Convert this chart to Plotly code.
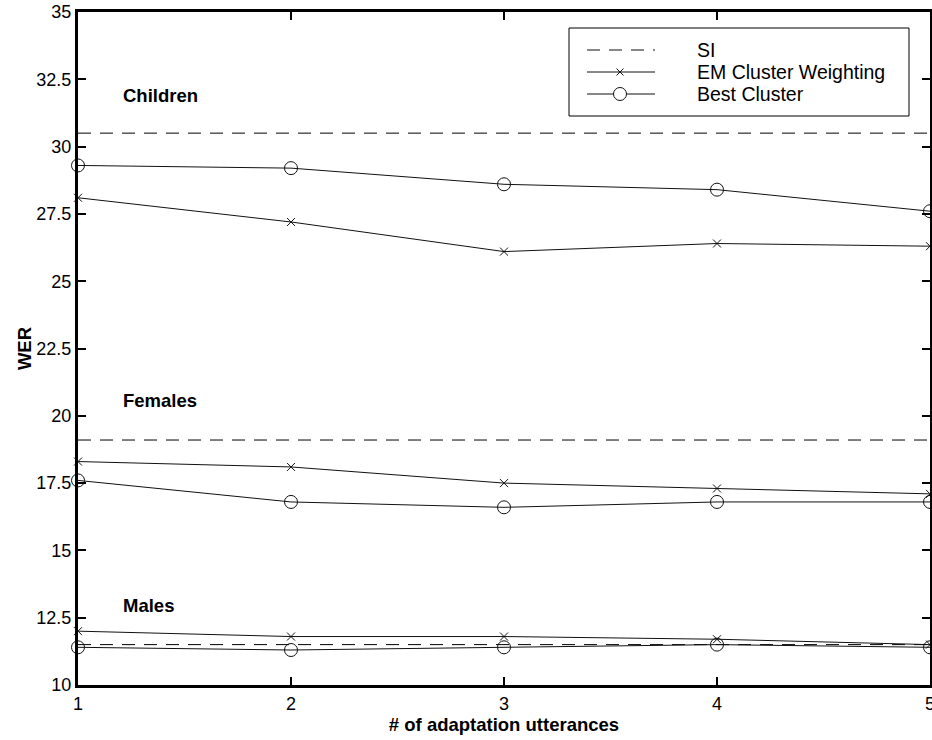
import plotly.graph_objects as go

# ---- data ----
utterances = [1, 2, 3, 4, 5]
groups = ["Children", "Females", "Males"]
si_wer = {"Children": 30.5, "Females": 19.1, "Males": 11.5}
em_wer = {
    "Children": [28.1, 27.2, 26.1, 26.4, 26.3],
    "Females": [18.3, 18.1, 17.5, 17.3, 17.1],
    "Males": [12.0, 11.8, 11.8, 11.7, 11.5],
}
best_wer = {
    "Children": [29.3, 29.2, 28.6, 28.4, 27.6],
    "Females": [17.6, 16.8, 16.6, 16.8, 16.8],
    "Males": [11.4, 11.3, 11.4, 11.5, 11.4],
}
label_y = {"Children": 31.9, "Females": 20.55, "Males": 12.95}
x_ticks = [1, 2, 3, 4, 5]
y_ticks = [10, 12.5, 15, 17.5, 20, 22.5, 25, 27.5, 30, 32.5, 35]
y_ticklabels = ["10", "12.5", "15", "17.5", "20", "22.5", "25", "27.5", "30", "32.5", "35"]
legend_names = ["SI", "EM Cluster Weighting", "Best Cluster"]

W, H = 932, 740
ML, MR, MT, MB = 78, 2, 12, 55
PW, PH = W - ML - MR, H - MT - MB
FONT = "Liberation Sans, Arial, Helvetica, sans-serif"
LC = "#111111"
DASH = "13px,9px"
TICK_FS = 18
BOLD_FS = 18.5
LEG_FS = 19.5


def px(xp):
    return (xp - ML) / PW


def py(yp):
    return (H - MB - yp) / PH


fig = go.Figure()

for g in groups:
    fig.add_trace(go.Scatter(
        x=[utterances[0], utterances[-1]], y=[si_wer[g], si_wer[g]],
        mode="lines", line=dict(color="black", width=1, dash=DASH),
        showlegend=False, hoverinfo="skip"))
    fig.add_trace(go.Scatter(
        x=utterances, y=em_wer[g], mode="lines+markers",
        line=dict(color=LC, width=1),
        marker=dict(symbol="x-thin", size=8, line=dict(color=LC, width=1)),
        showlegend=False, cliponaxis=False))
    fig.add_trace(go.Scatter(
        x=utterances, y=best_wer[g], mode="lines+markers",
        line=dict(color=LC, width=1),
        marker=dict(symbol="circle-open", size=13, color=LC, line=dict(color=LC, width=1)),
        showlegend=False, cliponaxis=False))
    fig.add_annotation(x=1.2, y=label_y[g], text="<b>%s</b>" % g, showarrow=False,
                       xanchor="left", yanchor="middle",
                       font=dict(family=FONT, size=BOLD_FS, color="black"))

# ---- manual legend (matching the reference's long line samples) ----
shapes = []
bx0, bx1, by0, by1 = 569, 909, 28, 116
shapes.append(dict(type="rect", xref="paper", yref="paper",
                   x0=px(bx0), x1=px(bx1), y0=py(by1), y1=py(by0),
                   line=dict(color="black", width=1), fillcolor="white", layer="above"))
rows = [50, 72, 94]
lx0, lx1, lxc = 587, 655, 620
for i, (name, ry) in enumerate(zip(legend_names, rows)):
    shapes.append(dict(type="line", xref="paper", yref="paper",
                       x0=px(lx0), x1=px(lx1), y0=py(ry), y1=py(ry),
                       line=dict(color=LC, width=1, dash=DASH if i == 0 else "solid"),
                       layer="above"))
    fig.add_annotation(xref="paper", yref="paper", x=px(695), y=py(ry), text=name,
                       showarrow=False, xanchor="left", yanchor="middle",
                       font=dict(family=FONT, size=LEG_FS, color="black"))
# cross marker sample
for sx in (1, -1):
    shapes.append(dict(type="line", xref="paper", yref="paper",
                       xsizemode="pixel", ysizemode="pixel",
                       xanchor=px(lxc), yanchor=py(rows[1]),
                       x0=-3.5, x1=3.5, y0=-3.5 * sx, y1=3.5 * sx,
                       line=dict(color=LC, width=1), layer="above"))
# circle marker sample
shapes.append(dict(type="circle", xref="paper", yref="paper",
                   xsizemode="pixel", ysizemode="pixel",
                   xanchor=px(lxc), yanchor=py(rows[2]),
                   x0=-6.5, x1=6.5, y0=-6.5, y1=6.5,
                   line=dict(color=LC, width=1), fillcolor="white", layer="above"))

fig.update_layout(
    width=W, height=H,
    margin=dict(l=ML, r=MR, t=MT, b=MB, autoexpand=False),
    paper_bgcolor="white", plot_bgcolor="white",
    font=dict(family=FONT, size=TICK_FS, color="black"),
    showlegend=False,
    shapes=shapes,
)
fig.update_xaxes(
    range=[1, 5], tickvals=x_ticks, ticktext=[str(v) for v in x_ticks],
    showgrid=False, zeroline=False, automargin=False,
    ticklabeloverflow="allow",
    showline=True, linecolor="black", linewidth=3, mirror="ticks",
    ticks="inside", ticklen=8, tickwidth=2, tickcolor="black",
    tickfont=dict(family=FONT, size=TICK_FS, color="black"),
    title=dict(text="<b># of adaptation utterances</b>", standoff=0,
               font=dict(family=FONT, size=BOLD_FS, color="black")),
)
fig.update_yaxes(
    range=[10, 35], tickvals=y_ticks, ticktext=y_ticklabels,
    showgrid=False, zeroline=False, automargin=False,
    ticklabeloverflow="allow",
    showline=True, linecolor="black", linewidth=3, mirror="ticks",
    ticks="inside", ticklen=8, tickwidth=2, tickcolor="black",
    tickfont=dict(family=FONT, size=TICK_FS, color="black"),
    title=dict(text="<b>WER</b>", standoff=0,
               font=dict(family=FONT, size=BOLD_FS, color="black")),
)

fig.write_html(
    "out.html",
    config={"displayModeBar": False},
    post_script="document.body.style.margin='0';document.body.style.overflow='hidden';"
                "document.documentElement.style.overflow='hidden';",
)
